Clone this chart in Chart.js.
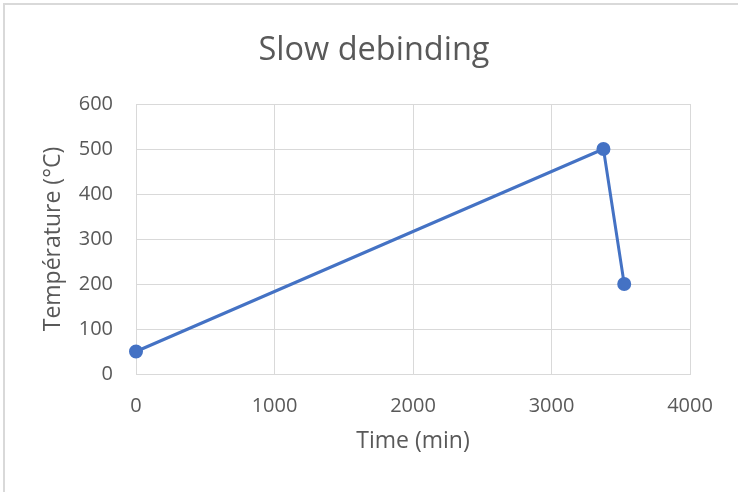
<!DOCTYPE html>
<html>
<head>
<meta charset="utf-8">
<script src="https://cdn.jsdelivr.net/npm/chart.js@4/dist/chart.umd.min.js"></script>
<style>
  html, body { margin: 0; padding: 0; background: #ffffff; overflow: hidden; }
  #wrap { position: relative; width: 738px; height: 492px; }
  #frame { position: absolute; left: 3px; top: 3px; width: 760px; height: 520px;
           border: 2px solid #d9d9d9; box-sizing: border-box; pointer-events: none; }
  canvas { position: absolute; left: 0; top: 0; }
</style>
</head>
<body>
<div id="wrap">
  <canvas id="chart" width="738" height="492"></canvas>
  <div id="frame"></div>
</div>
<script>
// Debinding temperature profile
const timeMin = [0, 3375, 3525];
const temperatureC = [50, 500, 200];
const xTicks = [0, 1000, 2000, 3000, 4000];
const yTicks = [0, 100, 200, 300, 400, 500, 600];

const textColor = '#595959';
const gridColor = '#d9d9d9';
const lineColor = '#4472c4';
const fontFamily = "'Open Sans', 'Liberation Sans', sans-serif";

const points = timeMin.map((t, i) => ({ x: t, y: temperatureC[i] }));

// Centre the title over the whole card rather than the padded layout box
const centerTitle = {
  id: 'centerTitle',
  afterLayout(chart) {
    const t = chart.titleBlock;
    if (!t) return;
    const shift = 374 - (t.left + t.right) / 2;
    t.left += shift;
    t.right += shift;
  }
};

new Chart(document.getElementById('chart'), {
  type: 'scatter',
  data: {
    datasets: [{
      data: points,
      showLine: true,
      clip: false,
      borderColor: lineColor,
      backgroundColor: lineColor,
      borderWidth: 3,
      pointRadius: 6,
      pointBorderWidth: 2,
      pointBorderColor: lineColor,
      pointBackgroundColor: lineColor
    }]
  },
  plugins: [centerTitle],
  options: {
    responsive: false,
    animation: false,
    layout: { padding: { left: 25, right: 48, top: 0, bottom: 0 } },
    plugins: {
      legend: { display: false },
      tooltip: { enabled: false },
      title: {
        display: true,
        text: 'Slow debinding',
        color: textColor,
        font: { family: fontFamily, size: 32.5, weight: 'normal', lineHeight: 1.2 },
        padding: { top: 31.5, bottom: 33.5 }
      }
    },
    scales: {
      x: {
        type: 'linear',
        min: xTicks[0],
        max: xTicks[xTicks.length - 1],
        afterBuildTicks: s => { s.ticks = xTicks.map(v => ({ value: v })); },
        afterFit: s => { s.height = 118; },
        grid: { color: gridColor, lineWidth: 1, drawTicks: false },
        border: { color: gridColor, width: 1 },
        ticks: { color: textColor, font: { family: fontFamily, size: 20 }, padding: 20, maxRotation: 0,
                 callback: v => String(v) },
        title: {
          display: true,
          text: 'Time (min)',
          color: textColor,
          font: { family: fontFamily, size: 23, lineHeight: 1.2 },
          padding: { top: 0, bottom: 37.2 }
        }
      },
      y: {
        type: 'linear',
        min: yTicks[0],
        max: yTicks[yTicks.length - 1],
        afterBuildTicks: s => { s.ticks = yTicks.map(v => ({ value: v })); },
        afterFit: s => { s.width = 111; },
        grid: { color: gridColor, lineWidth: 1, drawTicks: false },
        border: { color: gridColor, width: 1 },
        ticks: { color: textColor, font: { family: fontFamily, size: 20 }, padding: 23,
                 callback: v => String(v) },
        title: {
          display: true,
          text: 'Température (°C)',
          color: textColor,
          font: { family: fontFamily, size: 23, lineHeight: 1.2 },
          padding: { top: 14.2, bottom: 0 }
        }
      }
    }
  }
});
</script>
</body>
</html>
